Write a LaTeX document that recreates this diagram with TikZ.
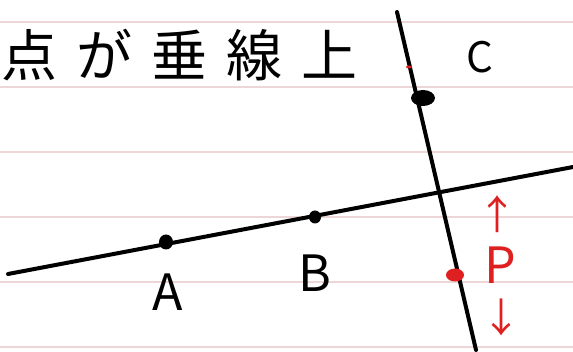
\documentclass[tikz,border=0pt]{standalone}
\usepackage{fontspec}
\setmainfont{Noto Sans CJK JP}
\usepackage{tikz}
\usetikzlibrary{
arrows.meta,
positioning,
shapes.geometric
}
\definecolor{notered}{RGB}{222,32,32}
\definecolor{rulepink}{RGB}{236,214,214}

\begin{document}
\begin{tikzpicture}[
  x=0.5pt, y=-0.5pt,
  rule/.style={rulepink, line width=0.7pt},
  pen/.style={line width=2pt, line cap=round},
  dot/.style={ellipse, fill=black, inner sep=0pt},
  lbl/.style={font=\fontsize{25}{28}\selectfont, inner sep=0pt},
  arr/.style={notered, font=\fontsize{20}{22}\selectfont, inner sep=0pt}
]
\useasboundingbox (0,0) rectangle (573,352);

% Ruled paper
\foreach \y in {22,87,152,217,282,347}
  \draw[rule] (0,\y) -- (573,\y);

% Title
\node[font=\fontsize{28}{32}\selectfont\addfontfeatures{LetterSpace=34}, anchor=west, inner sep=0pt] (title) at (1,55) {点が垂線上};

% Line through A and B
\coordinate (l1) at (8,274);
\coordinate (l2) at (573,167);
\draw[pen] (l1) -- (l2);

% Perpendicular
\coordinate (p1) at (397,12);
\coordinate (p2) at (476,350);
\draw[pen] (p1) -- (p2);

% Points
\node[dot, minimum width=7pt, minimum height=7.5pt] (a) at (166,242) {};
\node[dot, minimum width=6pt, minimum height=6.5pt] (b) at (315,217) {};
\node[dot, minimum width=12pt, minimum height=8pt] (c) at (423,98) {};
\node[dot, fill=notered, minimum width=9pt, minimum height=6.5pt] (p) at (455,275) {};
\node[dot, fill=notered, minimum width=3pt, minimum height=1.5pt] (tick) at (409,67) {};

% Labels
\node[lbl] (alabel) at (168,292) {A};
\node[lbl] (blabel) at (315,273) {B};
\node[lbl, font=\fontsize{21}{24}\selectfont] (clabel) at (480,57) {C};

% Red note
\node[lbl, notered] (plabel) at (500,265) {P};
\node[arr] (up) at (497,214) {↑};
\node[arr] (down) at (501,317) {↓};

\end{tikzpicture}
\end{document}
